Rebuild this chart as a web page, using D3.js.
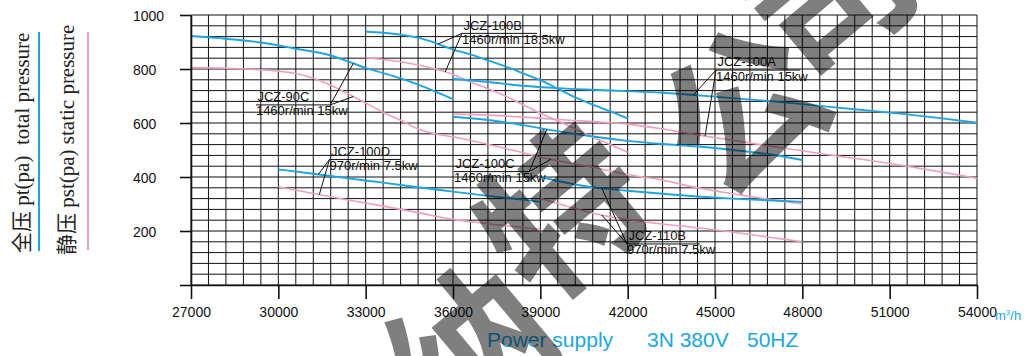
<!DOCTYPE html>
<html>
<head>
<meta charset="utf-8">
<script src="https://cdn.jsdelivr.net/npm/d3@7"></script>
<style>
  body { margin: 0; background: #fff; }
  svg { display: block; }
  text { white-space: pre; }
</style>
</head>
<body>
<svg id="chart" width="1029" height="356"></svg>
<script>
// Axis ticks
const flowTicks = [27000, 30000, 33000, 36000, 39000, 42000, 45000, 48000, 51000, 54000];
const pressureTicks = [0, 200, 400, 600, 800, 1000];

// Fan curves: [air volume m³/h, pressure Pa]
const jcz90cTotal = [[27000,922],[28200,912],[29400,898],[30600,875],[31800,850],[32400,828],[33000,804],[33600,785],[34200,765],[34800,742],[35400,716],[36000,688]];
const jcz90cStatic = [[27000,805],[28200,803],[29400,797],[30000,792],[30600,783],[31200,766],[31800,740],[32400,708],[33000,674],[33600,640],[34200,610],[34800,578],[35400,560],[36000,548]];
const jcz100bTotal = [[33000,939],[33600,934],[34200,927],[34800,916],[35400,896],[36000,872],[36600,854],[37200,832],[37800,810],[38400,784],[39000,759],[39600,727],[40200,695],[40800,668],[41400,643],[42000,617]];
const jcz100bStatic = [[33000,842],[33600,835],[34200,827],[34800,815],[35400,800],[36000,780],[36600,752],[37200,727],[37800,700],[38400,668],[39000,636],[39600,608],[40200,578],[40800,548],[41400,520],[42000,492]];
const jcz100aTotal = [[36000,764],[37200,752],[38400,738],[39600,729],[40800,723],[42000,718],[43200,712],[44400,703],[45600,692],[46800,682],[48000,670],[49200,657],[50400,645],[51600,632],[52800,617],[54000,601]];
const jcz100aStatic = [[36000,633],[37200,629],[38400,622],[39600,613],[40800,605],[42000,596],[43200,578],[44400,556],[45600,536],[46800,516],[48000,497],[49200,478],[50400,460],[51600,440],[52800,418],[54000,395]];
const jcz100cTotal = [[36000,623],[37200,611],[38400,592],[39600,570],[40800,550],[42000,534],[43200,522],[44400,513],[45600,500],[46800,485],[48000,463]];
const jcz100cStatic = [[36000,549],[37200,521],[38400,490],[39600,460],[40800,436],[42000,409],[43200,388],[44400,360],[45600,338],[46800,318],[48000,300]];
const jcz100dTotal = [[30000,428],[31200,412],[32400,395],[33600,379],[34800,362],[36000,346],[37200,330],[38400,316],[39000,308]];
const jcz100dStatic = [[30000,364],[31200,339],[32400,315],[33600,292],[34800,268],[36000,243],[37200,227],[38400,213],[39000,206]];
const jcz110bTotal = [[39000,401],[39600,385],[40200,372],[40800,362],[41400,355],[42000,349],[43200,338],[44400,328],[45600,320],[46800,314],[48000,308]];
const jcz110bStatic = [[39000,321],[39600,302],[40200,283],[40800,266],[41400,253],[42000,243],[43200,226],[44400,212],[45600,196],[46800,178],[48000,160]];

// Model labels
const modelNames = ["JCZ-90C", "JCZ-100B", "JCZ-100A", "JCZ-100C", "JCZ-100D", "JCZ-110B"];
const modelSpecs = ["1460r/min 15kw", "1460r/min 18.5kw", "1460r/min 15kw", "1460r/min 15kw", "970r/min 7.5kw", "970r/min 7.5kw"];
const modelCurves = [
  [jcz90cTotal, jcz90cStatic],
  [jcz100bTotal, jcz100bStatic],
  [jcz100aTotal, jcz100aStatic],
  [jcz100cTotal, jcz100cStatic],
  [jcz100dTotal, jcz100dStatic],
  [jcz110bTotal, jcz110bStatic]
];

// Label placement in data units: left edge, underline level, underline end, which end the leaders leave from,
// and the air volume at which each leader touches the total / static curve.
const labelPlacement = [
  { q0: 29230, p: 667, q1: 31780, from: "end",   hit: [32577, 32577] },
  { q0: 36309, p: 932, q1: 38885, from: "start", hit: [35490, 35730] },
  { q0: 45034, p: 796, q1: 47920, from: "start", hit: [44260, 44660] },
  { q0: 36034, p: 420, q1: 38620, from: "end",   hit: [39223, 39370] },
  { q0: 31757, p: 465, q1: 34214, from: "start", hit: [31375, 31409] },
  { q0: 41977, p: 152, q1: 44484, from: "start", hit: [41113, 41113] }
];

// Company mark: characters and their centres (pixels)
const markChars = ["纳", "特", "公", "司"];
const markCentres = [[470, 350], [562, 212], [742, 108], [828, -6]];

const BLUE = "#1ba6e3";
const PINK = "#f19dc1";
const INK = "#111";

const svg = d3.select("#chart");
const x = d3.scaleLinear().domain([27000, 54000]).range([191, 977]);
const y = d3.scaleLinear().domain([0, 1000]).range([285, 15]);

// Grid: 600 m³/h by 40 Pa
const grid = svg.append("g").attr("stroke", INK).attr("stroke-width", 1);
grid.selectAll("line.v").data(d3.range(27000, 54001, 600)).join("line")
  .attr("class", "v")
  .attr("x1", d => x(d)).attr("x2", d => x(d))
  .attr("y1", y(0)).attr("y2", y(1000));
grid.selectAll("line.h").data(d3.range(0, 1001, 40)).join("line")
  .attr("class", "h")
  .attr("x1", x(27000)).attr("x2", x(54000))
  .attr("y1", d => y(d)).attr("y2", d => y(d));

// Curves
const line = d3.line().x(d => x(d[0])).y(d => y(d[1])).curve(d3.curveMonotoneX);
const curves = svg.append("g").attr("fill", "none");
modelCurves.forEach(([tot, sta]) => {
  curves.append("path").attr("d", line(sta)).attr("stroke", PINK).attr("stroke-width", 1.6);
  curves.append("path").attr("d", line(tot)).attr("stroke", BLUE).attr("stroke-width", 1.9);
});

// Axes
const axisFont = "'Liberation Sans', Arial, sans-serif";
const gy = svg.append("g")
  .attr("transform", `translate(${x(27000)},0)`)
  .call(d3.axisLeft(y).tickValues(pressureTicks).tickSize(11).tickSizeOuter(0)
    .tickFormat(d => d === 0 ? "" : d));
gy.attr("font-family", axisFont).attr("font-size", 14);
gy.selectAll("path, line").attr("stroke", INK).attr("stroke-width", 1.6);
gy.selectAll("text").attr("x", -58).attr("dy", "0.36em").attr("text-anchor", "start").attr("fill", INK);

const gx = svg.append("g")
  .attr("transform", `translate(0,${y(0)})`)
  .call(d3.axisBottom(x).tickValues(flowTicks).tickSize(14).tickSizeOuter(0).tickFormat(d3.format("d")));
gx.attr("font-family", axisFont).attr("font-size", 14);
gx.selectAll("path, line").attr("stroke", INK).attr("stroke-width", 1.6);
gx.selectAll("text").attr("y", 32).attr("dy", 0).attr("fill", INK);

// Unit of the air volume axis
const unit = svg.append("text").attr("x", x(54000) + 18).attr("y", 320)
  .attr("font-family", axisFont).attr("font-size", 13).attr("fill", BLUE);
unit.append("tspan").text("m");
unit.append("tspan").attr("font-size", 8).attr("dy", -5).text("3");
unit.append("tspan").attr("dy", 5).text("/h");

// Model labels with leader lines
function valueAt(series, q) {
  const i = Math.max(1, Math.min(series.length - 1, d3.bisector(d => d[0]).left(series, q)));
  const a = series[i - 1], b = series[i];
  return a[1] + (b[1] - a[1]) * (q - a[0]) / (b[0] - a[0]);
}
const labels = svg.append("g").attr("font-family", axisFont).attr("font-size", 13).attr("fill", INK);
labelPlacement.forEach((lp, i) => {
  const ux0 = x(lp.q0), ux1 = x(lp.q1), uy = y(lp.p);
  labels.append("text").attr("x", ux0 + 1.5).attr("y", uy - 3.8).text(modelNames[i]);
  labels.append("text").attr("x", ux0).attr("y", uy + 10.5).text(modelSpecs[i]);
  labels.append("line").attr("x1", ux0).attr("x2", ux1).attr("y1", uy).attr("y2", uy)
    .attr("stroke", INK).attr("stroke-width", 1);
  const kx = lp.from === "end" ? ux1 : ux0;
  modelCurves[i].forEach((series, k) => {
    const q = lp.hit[k];
    labels.append("line").attr("x1", kx).attr("y1", uy)
      .attr("x2", x(q)).attr("y2", y(valueAt(series, q)))
      .attr("stroke", INK).attr("stroke-width", 1);
  });
});

// Legend (vertical, on the left)
const serif = "'Liberation Serif', 'Times New Roman', 'Noto Sans CJK SC', serif";
svg.append("text").attr("transform", "translate(29,253) rotate(-90)")
  .attr("font-family", serif).attr("font-size", 21).attr("fill", "#222")
  .text("全压 pt(pa)  total pressure");
svg.append("line").attr("x1", 39).attr("x2", 39).attr("y1", 32).attr("y2", 251)
  .attr("stroke", BLUE).attr("stroke-width", 2);
svg.append("text").attr("transform", "translate(74,255) rotate(-90)")
  .attr("font-family", serif).attr("font-size", 21).attr("fill", "#222")
  .text("静压 pst(pa) static pressure");
svg.append("line").attr("x1", 88).attr("x2", 88).attr("y1", 32).attr("y2", 250)
  .attr("stroke", PINK).attr("stroke-width", 2);

// Power supply note
const note = svg.append("g").attr("font-family", axisFont).attr("font-size", 21).attr("fill", BLUE);
note.append("text").attr("x", 487).attr("y", 346.5).text("Power supply");
note.append("text").attr("x", 647).attr("y", 346.5).text("3N 380V");
note.append("text").attr("x", 747).attr("y", 346.5).text("50HZ");

// Company mark across the chart
const mark = svg.append("g")
  .attr("font-family", "'Noto Sans CJK SC', sans-serif").attr("font-weight", 700)
  .attr("font-size", 160).attr("fill", "#000").attr("fill-opacity", 0.5)
  .attr("text-anchor", "middle");
markChars.forEach((ch, i) => {
  mark.append("text")
    .attr("transform", `translate(${markCentres[i][0]},${markCentres[i][1]}) rotate(-40)`)
    .attr("y", 60).text(ch);
});
</script>
</body>
</html>
